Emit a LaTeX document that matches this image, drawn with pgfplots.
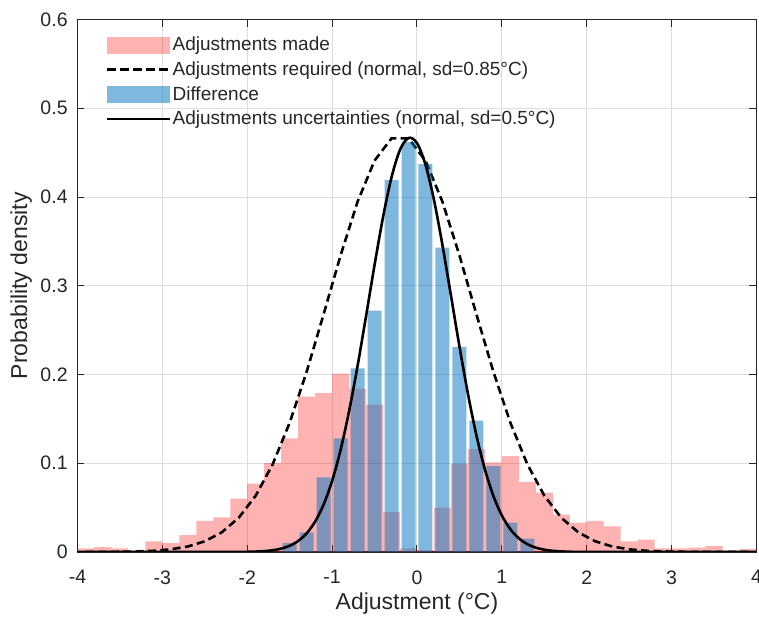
\documentclass[border=0pt]{standalone}
\usepackage{fontspec}
\setmainfont{Liberation Sans}
\usepackage{pgfplots}
\pgfplotsset{compat=1.18}
\definecolor{mblue}{RGB}{0,114,189}
\definecolor{axgray}{RGB}{38,38,38}
\begin{document}
\fontsize{9.75}{11.7}\selectfont
\begin{tikzpicture}
\begin{axis}[
  at={(0pt,0pt)}, anchor=south west,
  width=339.5pt, height=266.25pt, scale only axis,
  xmin=-4, xmax=4, ymin=0, ymax=0.6,
  xtick={-4,-3,-2,-1,0,1,2,3,4},
  xticklabels={-4,-3,-2,-1,0,1,2,3,4},
  ytick={0,0.1,0.2,0.3,0.4,0.5,0.6},
  yticklabels={0,0.1,0.2,0.3,0.4,0.5,0.6},
  tick align=inside, major tick length=3.5pt,
  grid=major, major grid style={draw=black!13, line width=0.5pt},
  axis line style={draw=axgray, line width=0.6pt},
  tick style={draw=axgray, line width=0.5pt},
  ticklabel style={font=\fontsize{9.75}{11.7}\selectfont, text=axgray},
  xticklabel style={inner sep=0pt, yshift=-9pt},
  yticklabel style={inner sep=0pt, xshift=-4.75pt},
  xlabel={Adjustment (°C)}, ylabel={Probability density},
  label style={font=\fontsize{11.5}{13.8}\selectfont, text=axgray},
  xlabel style={at={(axis description cs:0.5,-0.0977)}, anchor=center},
  ylabel style={at={(axis description cs:-0.0830,0.5)}, anchor=center},
  legend style={at={(axis description cs:0.0405,0.972)}, anchor=north west,
    draw=none, fill=none, inner sep=0pt, row sep=2.0pt,
    font=\fontsize{9.5}{11.4}\selectfont, text=axgray,
    nodes={inner xsep=0.8pt, inner ysep=0pt, text height=8pt, text depth=2.3pt}},
  legend cell align=left,
]
\addplot[ybar, bar width=0.2, bar shift=0pt, fill=red, fill opacity=0.3, draw=none,
  legend image code/.code={\fill[red, fill opacity=0.3] (0pt,-4.25pt) rectangle (31.5pt,4.25pt);}]
coordinates {
(-3.9,0.004) (-3.7,0.0056) (-3.5,0.004) (-3.3,0.0015) (-3.1,0.012) (-2.9,0.010)
(-2.7,0.019) (-2.5,0.035) (-2.3,0.039) (-2.1,0.060) (-1.9,0.077) (-1.7,0.100)
(-1.5,0.128) (-1.3,0.175) (-1.1,0.179) (-0.9,0.201) (-0.7,0.184) (-0.5,0.166)
(-0.3,0.045) (-0.1,0.004) (0.1,0.002) (0.3,0.050) (0.5,0.0995) (0.7,0.116)
(0.9,0.101) (1.1,0.108) (1.3,0.079) (1.5,0.067) (1.7,0.042) (1.9,0.033)
(2.1,0.035) (2.3,0.029) (2.5,0.012) (2.7,0.014) (2.9,0.004) (3.1,0.004)
(3.3,0.005) (3.5,0.007) (3.7,0.0015) (3.9,0.0034)
};
\addlegendentry{Adjustments made}
\addplot[black, line width=1.3pt, dash pattern=on 4pt off 2.2pt,
  legend image code/.code={\draw[black, line width=1.3pt, dash pattern=on 4.5pt off 2pt] (0pt,0pt) -- (31.5pt,0pt);}]
coordinates {
(-3.9,0.000036) (-3.7,0.000098) (-3.5,0.00025) (-3.3,0.000606) (-3.1,0.00139)
(-2.9,0.00302) (-2.7,0.00621) (-2.5,0.01206) (-2.3,0.02218) (-2.1,0.0386)
(-1.9,0.0635) (-1.7,0.0989) (-1.5,0.1457) (-1.3,0.2031) (-1.1,0.2679)
(-0.9,0.3343) (-0.7,0.3947) (-0.5,0.4410) (-0.3,0.4661) (-0.1,0.4661)
(0.1,0.4410) (0.3,0.3947) (0.5,0.3343) (0.7,0.2679) (0.9,0.2031)
(1.1,0.1457) (1.3,0.0989) (1.5,0.0635) (1.7,0.0386) (1.9,0.02218)
(2.1,0.01206) (2.3,0.00621) (2.5,0.00302) (2.7,0.00139) (2.9,0.000606)
(3.1,0.00025) (3.3,0.000098) (3.5,0.000036) (3.7,0.000012) (3.9,0.000004)
};
\addlegendentry{Adjustments required (normal, sd=0.85°C)}
\addplot[ybar, bar width=0.165, bar shift=0pt, fill=mblue, fill opacity=0.5, draw=none,
  legend image code/.code={\fill[mblue, fill opacity=0.5] (0pt,-4.25pt) rectangle (31.5pt,4.25pt);}]
coordinates {
(-1.5,0.010) (-1.3,0.022) (-1.1,0.084) (-0.9,0.128) (-0.7,0.207) (-0.5,0.272)
(-0.3,0.419) (-0.1,0.462) (0.1,0.437) (0.3,0.343) (0.5,0.231) (0.7,0.148)
(0.9,0.097) (1.1,0.033) (1.3,0.015)
};
\addlegendentry{Difference}
\addplot[black, line width=1.3pt, smooth,
  legend image code/.code={\draw[black, line width=1.3pt] (0pt,0pt) -- (31.5pt,0pt);}]
coordinates {
(-4,0) (-2.5,0.0000005) (-2.0,0.000216) (-1.9,0.00047) (-1.8,0.000985) (-1.7,0.00198)
(-1.6,0.0038) (-1.5,0.00701) (-1.4,0.01241) (-1.3,0.02105) (-1.2,0.03427)
(-1.1,0.0535) (-1.0,0.0801) (-0.9,0.1151) (-0.8,0.1587) (-0.7,0.2097)
(-0.6,0.2659) (-0.5,0.3234) (-0.4,0.3773) (-0.3,0.4222) (-0.2,0.4532)
(-0.1,0.4666) (0.0,0.4608) (0.1,0.4365) (0.2,0.3967) (0.3,0.3457)
(0.4,0.2890) (0.5,0.2318) (0.6,0.1783) (0.7,0.1315) (0.8,0.0931)
(0.9,0.0632) (1.0,0.0411) (1.1,0.0257) (1.2,0.0154) (1.3,0.00885)
(1.4,0.00488) (1.5,0.00258) (1.6,0.00131) (1.7,0.00064) (1.8,0.0003)
(1.9,0.00013) (2.5,0.0000002) (4,0)
};
\addlegendentry{Adjustments uncertainties (normal, sd=0.5°C)}
\end{axis}
\pgfresetboundingbox
\useasboundingbox (-38.75pt,-34pt) rectangle (340.75pt,276pt);
\end{tikzpicture}
\end{document}
